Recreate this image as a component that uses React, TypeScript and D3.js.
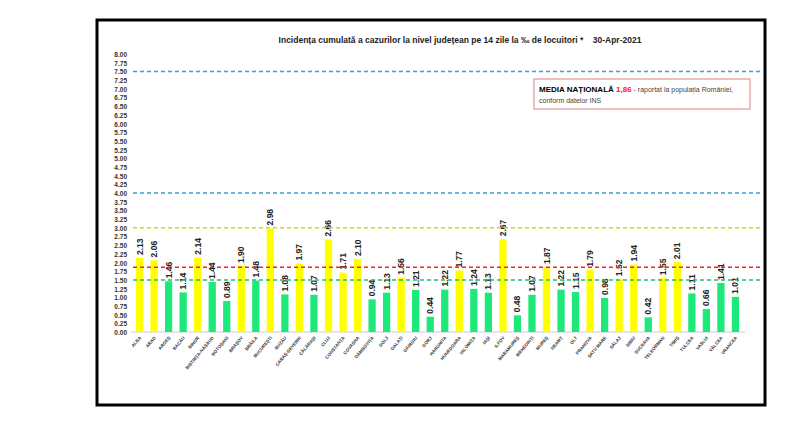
import React from "react";
import * as d3 from "d3";

const counties = ["ALBA", "ARAD", "ARGEȘ", "BACĂU", "BIHOR", "BISTRIȚA-NĂSĂUD", "BOTOȘANI", "BRAȘOV", "BRĂILA", "BUCUREȘTI", "BUZĂU", "CARAȘ-SEVERIN", "CĂLĂRAȘI", "CLUJ", "CONSTANȚA", "COVASNA", "DÂMBOVIȚA", "DOLJ", "GALAȚI", "GIURGIU", "GORJ", "HARGHITA", "HUNEDOARA", "IALOMIȚA", "IAȘI", "ILFOV", "MARAMUREȘ", "MEHEDINȚI", "MUREȘ", "NEAMȚ", "OLT", "PRAHOVA", "SATU MARE", "SĂLAJ", "SIBIU", "SUCEAVA", "TELEORMAN", "TIMIȘ", "TULCEA", "VASLUI", "VÂLCEA", "VRANCEA"];
const values = [2.13, 2.06, 1.46, 1.14, 2.14, 1.44, 0.89, 1.9, 1.48, 2.98, 1.08, 1.97, 1.07, 2.66, 1.71, 2.1, 0.94, 1.13, 1.56, 1.21, 0.44, 1.22, 1.77, 1.24, 1.13, 2.67, 0.48, 1.07, 1.87, 1.22, 1.15, 1.79, 0.98, 1.52, 1.94, 0.42, 1.55, 2.01, 1.11, 0.66, 1.41, 1.01];
const yTicks = d3.range(0, 8.001, 0.25);
const refLines = [
  { v: 7.5, color: "#3d9bd6" },
  { v: 4.0, color: "#3d9bd6" },
  { v: 3.0, color: "#d8d800" },
  { v: 1.86, color: "#ff2020" },
  { v: 1.5, color: "#20c070" },
];

export default function App() {
  const x = d3.scaleBand().domain(counties).range([133, 742]).paddingInner(0.5).paddingOuter(0.2);
  const y = d3.scaleLinear().domain([0, 8]).range([332, 54]);
  const font = "Liberation Sans, Arial, sans-serif";
  return (
    <svg width={800} height={436} style={{ position: "absolute", left: 0, top: 0 }}>
      <rect x={0} y={0} width={800} height={436} fill="#fff" />
      <rect x={97} y={20} width={668} height={385} fill="#fff" stroke="#000" strokeWidth={3} />
      <text x={460} y={43} textAnchor="middle" fontFamily={font} fontSize={8.5} fontWeight="bold" fill="#222" xmlSpace="preserve">
        {"Incidența cumulată a cazurilor la nivel județean pe 14 zile la ‰ de locuitori *    30-Apr-2021"}
      </text>
      {yTicks.map((t) => (
        <text key={t} x={127} y={y(t) + 3} textAnchor="end" fontFamily={font} fontSize={6.5} fontWeight="bold" fill="#333">
          {t.toFixed(2)}
        </text>
      ))}
      <line x1={131} x2={745} y1={y(0)} y2={y(0)} stroke="#ccc" />
      {counties.map((c, i) => {
        const v = values[i];
        const cx = x(c)! + x.bandwidth() / 2;
        return (
          <g key={c}>
            <rect x={x(c)} y={y(v)} width={x.bandwidth()} height={y(0) - y(v)} fill={v >= 1.5 ? "#ffff00" : "#1de87a"} />
            <text transform={`translate(${cx + 3},${y(v) - 3}) rotate(-90)`} fontFamily={font} fontSize={8.5} fontWeight="bold" fill="#222">
              {v.toFixed(2)}
            </text>
            <text transform={`translate(${cx + 2},${y(0) + 6}) rotate(-50)`} textAnchor="end" fontFamily={font} fontSize={4.5} fontWeight="bold" fill="#333">
              {c}
            </text>
          </g>
        );
      })}
      {refLines.map((r) => (
        <line key={r.v} x1={133} x2={762} y1={y(r.v)} y2={y(r.v)} stroke={r.color} strokeWidth={1.5} strokeDasharray="4,3" />
      ))}
      <rect x={534} y={79} width={216} height={30} fill="#fff" stroke="#e08080" strokeWidth={1} />
      <text x={539} y={92} fontFamily={font} fontSize={7}>
        <tspan fontWeight="bold" fontSize={8}>MEDIA NAȚIONALĂ </tspan>
        <tspan fontWeight="bold" fill="#ff2020" fontSize={8}>1,86</tspan>
        <tspan fill="#444"> - raportat la populația României,</tspan>
      </text>
      <text x={539} y={103} fontFamily={font} fontSize={7} fill="#444">conform datelor INS</text>
    </svg>
  );
}
